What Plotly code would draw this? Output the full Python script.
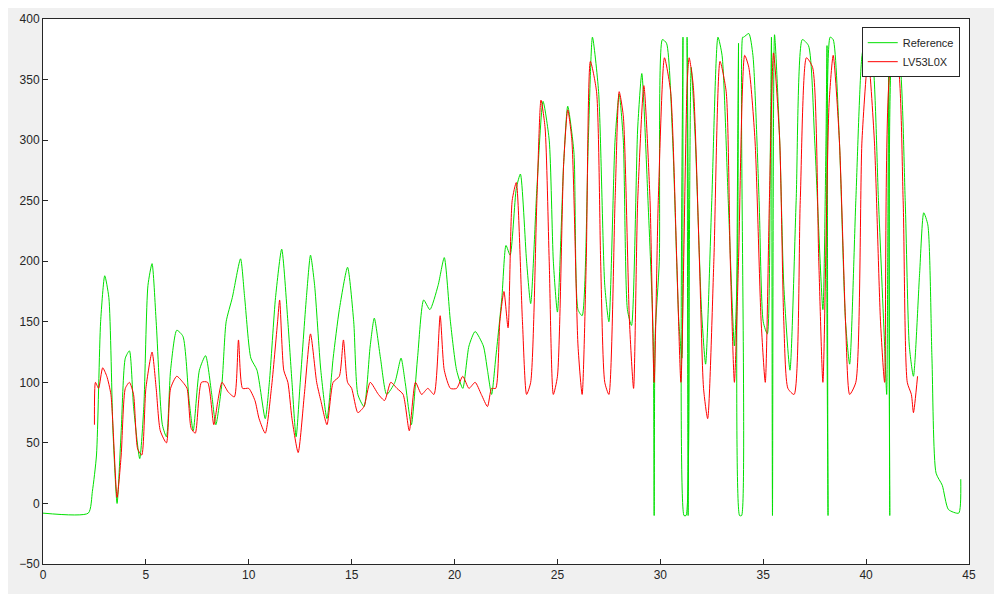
import plotly.graph_objects as go

ref_t = [0,2.2,2.4,2.6,2.8,3.0,3.2,3.4,3.6,3.8,4.0,4.2,4.4,4.7,4.9,5.1,5.3,5.5,5.8,6.0,6.2,6.5,6.8,7.1,7.3,7.6,7.9,8.2,8.4,8.7,8.9,9.2,9.6,9.8,10.1,10.4,10.8,11.0,11.3,11.6,11.9,12.1,12.3,12.5,12.8,13.0,13.2,13.5,13.8,14.1,14.4,14.8,15.1,15.3,15.6,15.9,16.1,16.4,16.7,17.1,17.4,17.6,17.9,18.2,18.5,18.8,19.2,19.5,19.8,20.1,20.4,20.7,21.0,21.4,21.6,21.8,22.0,22.3,22.5,22.7,23.0,23.2,23.5,23.7,24.0,24.3,24.6,24.8,25.0,25.3,25.5,25.8,26.0,26.2,26.5,26.7,27.0,27.3,27.5,27.8,28.0,28.2,28.4,28.6,28.9,29.1,29.4,29.65,29.7,29.75,29.95,30.1,30.3,30.6,30.9,31.05,31.1,31.15,31.25,31.3,31.35,31.5,31.7,32.0,32.2,32.5,32.8,33.0,33.3,33.6,33.75,33.8,33.85,33.95,34.0,34.05,34.3,34.5,34.8,35.0,35.2,35.35,35.4,35.45,35.55,35.8,36.0,36.3,36.6,36.9,37.2,37.5,37.9,38.05,38.1,38.15,38.25,38.4,38.7,39.0,39.2,39.5,39.8,40.0,40.3,40.6,40.9,41.0,41.05,41.1,41.15,41.3,41.6,41.9,42.1,42.3,42.6,42.8,43.0,43.2,43.4,43.7,44.0,44.5,44.6]
ref_v = [-8,-8,10,40,150,188,170,60,0,60,120,126,80,37,80,180,198,150,65,55,110,143,138,85,60,110,122,90,65,100,150,170,202,170,120,110,70,100,170,210,150,100,55,100,170,205,180,110,70,120,160,195,150,90,80,130,153,120,90,100,120,100,65,120,168,160,180,203,150,110,95,130,142,130,110,90,120,170,213,205,260,272,200,165,260,332,300,200,158,280,328,290,160,155,300,385,340,180,150,300,338,300,160,147,310,355,250,140,-10,140,200,383,380,300,150,120,385,-10,-10,385,-10,360,300,160,115,250,385,370,250,130,200,380,-10,-10,385,385,388,370,250,150,140,300,385,-10,387,300,180,110,250,383,378,300,160,300,378,-10,385,383,300,150,115,250,370,385,370,250,130,90,200,370,-10,380,370,250,130,105,190,240,230,120,25,15,-5,-8,20]

lv_t = [2.5,2.55,2.7,2.9,3.1,3.3,3.6,3.8,4.0,4.2,4.4,4.6,4.8,5.0,5.3,5.5,5.7,6.0,6.2,6.5,6.8,7.0,7.2,7.4,7.7,8.0,8.3,8.5,8.7,9.0,9.3,9.5,9.7,10.0,10.3,10.5,10.8,11.1,11.4,11.5,11.7,11.9,12.1,12.4,12.7,13.0,13.3,13.5,13.8,14.1,14.4,14.6,14.8,15.0,15.3,15.6,15.9,16.3,16.6,16.9,17.2,17.5,17.8,18.1,18.4,18.7,19.0,19.3,19.5,19.8,20.1,20.4,20.7,21.0,21.3,21.6,21.8,22.0,22.2,22.4,22.6,22.8,23.0,23.3,23.5,23.7,24.0,24.2,24.4,24.6,24.8,25.0,25.3,25.5,25.7,26.0,26.2,26.4,26.6,26.9,27.1,27.3,27.5,27.8,28.0,28.2,28.5,28.7,28.9,29.2,29.5,29.7,29.9,30.2,30.5,30.8,31.0,31.3,31.4,31.6,31.9,32.1,32.3,32.6,32.9,33.2,33.4,33.6,33.8,34.1,34.3,34.6,34.9,35.1,35.3,35.5,35.8,36.0,36.2,36.5,36.8,37.1,37.4,37.7,37.9,38.2,38.4,38.7,39.0,39.2,39.5,39.8,40.1,40.4,40.7,40.9,41.2,41.5,41.8,42.0,42.2,42.3,42.5]
lv_v = [65,100,95,112,105,90,5,40,95,100,90,45,40,95,125,95,60,50,95,105,100,95,62,58,100,100,65,85,100,92,88,135,95,95,85,70,58,95,150,168,110,100,70,42,90,140,100,85,65,100,105,135,100,95,75,80,100,90,85,100,95,90,60,100,90,95,90,155,110,95,95,105,95,100,90,80,95,95,150,175,145,250,265,150,90,100,250,333,310,200,90,105,280,325,300,130,90,200,365,340,200,100,90,250,340,320,150,95,250,345,250,100,250,368,340,200,100,345,368,345,200,95,70,200,365,340,200,100,200,370,360,300,150,100,250,372,300,150,95,90,250,368,360,200,100,330,370,300,150,90,100,300,368,300,150,100,360,365,250,100,90,75,105]

fig = go.Figure()
fig.add_trace(go.Scatter(x=ref_t, y=ref_v, mode="lines", name="Reference",
                         line=dict(color="#00e000", width=1, shape="spline", smoothing=0.6)))
fig.add_trace(go.Scatter(x=lv_t, y=lv_v, mode="lines", name="LV53L0X",
                         line=dict(color="#ff0000", width=1, shape="spline", smoothing=0.6)))
ax = dict(showgrid=False, zeroline=False, showline=True, linecolor="#262626", mirror=True,
          ticks="inside", ticklen=5, tickcolor="#262626", tickfont=dict(size=12, color="#262626"),
          automargin=False)
fig.update_layout(
    width=1002, height=594, paper_bgcolor="#f0f0f0", plot_bgcolor="white",
    margin=dict(l=35, r=41, t=11, b=38),
    font=dict(family="Liberation Sans, Arial", size=12, color="#262626"),
    xaxis=dict(range=[0, 45], dtick=5, **ax),
    yaxis=dict(range=[-50, 400], dtick=50, **ax),
    legend=dict(x=0.99, y=0.985, xanchor="right", yanchor="top", bgcolor="white",
                bordercolor="#262626", borderwidth=1, font=dict(size=11), tracegroupgap=0),
    showlegend=True,
)
fig.write_html("out.html")
